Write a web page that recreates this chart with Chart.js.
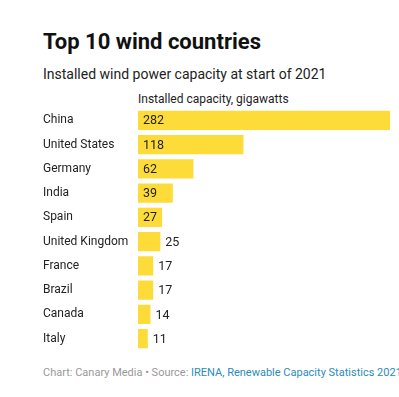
<!DOCTYPE html>
<html>
<head>
<meta charset="utf-8">
<script src="https://cdn.jsdelivr.net/npm/chart.js@4"></script>
<style>
  body { margin: 0; background: #fff; font-family: Roboto, sans-serif; }
  .wrap { position: relative; width: 399px; height: 397px; overflow: hidden; }
  .t { position: absolute; left: 43px; white-space: nowrap; line-height: 1; }
  #title { top: 31px; font-size: 22px; font-weight: 700; color: #111; }
  #sub { top: 67px; font-size: 14px; color: #222; }
  #axis { top: 93px; left: 138px; font-size: 12px; color: #222; }
  #foot { top: 367px; font-size: 11px; color: #999; }
  #foot a { color: #2b8cb8; text-decoration: none; }
  #box { position: absolute; left: 0; top: 98px; width: 399px; height: 263px; }
</style>
</head>
<body>
<div class="wrap">
  <div class="t" id="title">Top 10 wind countries</div>
  <div class="t" id="sub">Installed wind power capacity at start of 2021</div>
  <div class="t" id="axis">Installed capacity, gigawatts</div>
  <div id="box"><canvas id="windChart"></canvas></div>
  <div class="t" id="foot">Chart: Canary Media • Source: <a>IRENA, Renewable Capacity Statistics 2021</a></div>
</div>
<script>
var countries = ['China', 'United States', 'Germany', 'India', 'Spain',
  'United Kingdom', 'France', 'Brazil', 'Canada', 'Italy'];
var capacity = [282, 118, 62, 39, 27, 25, 17, 17, 14, 11];

// value labels: inside the bar if it fits, otherwise just after it
var valueLabels = {
  id: 'valueLabels',
  afterDatasetsDraw: function(chart) {
    var ctx = chart.ctx;
    var meta = chart.getDatasetMeta(0);
    ctx.save();
    ctx.font = '12.5px Roboto';
    ctx.fillStyle = '#222';
    ctx.textBaseline = 'middle';
    meta.data.forEach(function(bar, i) {
      var txt = String(capacity[i]);
      var w = ctx.measureText(txt).width;
      var barW = bar.x - bar.base;
      var x = (w + 9 <= barW) ? bar.base + 5 : bar.x + 5;
      ctx.fillText(txt, x, bar.y + 1);
    });
    ctx.restore();
  }
};

var chart = new Chart(document.getElementById('windChart'), {
  type: 'bar',
  data: {
    labels: countries,
    datasets: [{
      data: capacity,
      backgroundColor: '#fddc3a',
      barPercentage: 0.79,
      categoryPercentage: 1
    }]
  },
  options: {
    indexAxis: 'y',
    responsive: true,
    maintainAspectRatio: false,
    animation: false,
    layout: { padding: { left: 43, right: 9, top: 0, bottom: 0 } },
    plugins: {
      legend: { display: false },
      tooltip: { enabled: false }
    },
    scales: {
      x: { display: false, min: 0, max: 282 },
      y: {
        grid: { display: false },
        border: { display: false },
        ticks: {
          crossAlign: 'far',
          color: '#222',
          font: { family: 'Roboto', size: 12 }
        },
        afterFit: function(scale) { scale.width = 95; }
      }
    }
  },
  plugins: [valueLabels]
});
</script>
</body>
</html>
